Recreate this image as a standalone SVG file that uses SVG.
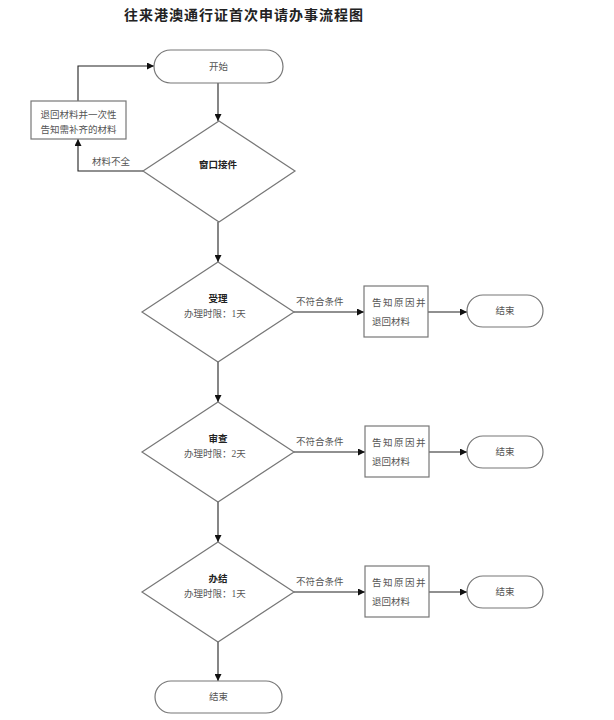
<svg xmlns="http://www.w3.org/2000/svg" width="614" height="720" viewBox="0 0 614 720">
<style>
.t{font-family:"Liberation Serif","Noto Sans CJK SC",serif;font-size:9.5px;fill:#555;}
.c{text-anchor:middle;dominant-baseline:central;}
.b{font-weight:bold;fill:#222;}
.title{font-family:"Liberation Serif","Noto Sans CJK SC",serif;font-size:14px;font-weight:bold;fill:#222;letter-spacing:1px;}
.shape{fill:#fff;stroke:#777;stroke-width:1.2;}
.ln{fill:none;stroke:#222;stroke-width:1.1;}
</style>
<defs>
<marker id="ar" viewBox="0 0 10 10" refX="10" refY="5" markerWidth="7" markerHeight="7" markerUnits="userSpaceOnUse" orient="auto">
<path d="M0,0 L10,5 L0,10 z" fill="#111"/>
</marker>
</defs>
<rect width="614" height="720" fill="#fff"/>
<text class="title c" x="244" y="15">往来港澳通行证首次申请办事流程图</text>

<g id="connectors">
<path class="ln" d="M218,83 V121" marker-end="url(#ar)"/>
<path class="ln" d="M143,171 H78 V139" marker-end="url(#ar)"/>
<path class="ln" d="M78,101 V66 H154" marker-end="url(#ar)"/>
<path class="ln" d="M218,222 V262" marker-end="url(#ar)"/>
<path class="ln" d="M294,312 H364" marker-end="url(#ar)"/>
<path class="ln" d="M428,312 H467" marker-end="url(#ar)"/>
<path class="ln" d="M218,362 V402" marker-end="url(#ar)"/>
<path class="ln" d="M294,452 H365" marker-end="url(#ar)"/>
<path class="ln" d="M429,452 H467" marker-end="url(#ar)"/>
<path class="ln" d="M218,502 V542" marker-end="url(#ar)"/>
<path class="ln" d="M294,592 H365" marker-end="url(#ar)"/>
<path class="ln" d="M429,592 H467" marker-end="url(#ar)"/>
<path class="ln" d="M218,642 V681" marker-end="url(#ar)"/>
<text class="t" x="92" y="165">材料不全</text>
<text class="t" x="296" y="305">不符合条件</text>
<text class="t" x="296" y="445">不符合条件</text>
<text class="t" x="296" y="585">不符合条件</text>
</g>

<g id="start">
<rect class="shape" x="154" y="50" width="129" height="33" rx="16.5"/>
<text class="t c" x="218.5" y="66.5">开始</text>
</g>

<g id="window">
<polygon class="shape" points="219,121 295,171 219,222 143,171"/>
<text class="t c b" x="218" y="165">窗口接件</text>
</g>

<g id="return1">
<rect class="shape" x="31" y="101" width="95" height="38"/>
<text class="t c" x="78.5" y="115">退回材料并一次性</text>
<text class="t c" x="78.5" y="130">告知需补齐的材料</text>
</g>

<g id="accept">
<polygon class="shape" points="218,262 294,312 218,362 142,312"/>
<text class="t c b" x="218" y="299">受理</text>
<text class="t c" x="215" y="314">办理时限：1天</text>
</g>
<g id="box1">
<rect class="shape" x="364" y="286" width="64" height="51"/>
<text class="t" x="372" y="306" letter-spacing="1.5">告知原因并</text>
<text class="t" x="372" y="325">退回材料</text>
</g>
<g id="end1">
<rect class="shape" x="467" y="295" width="76" height="32" rx="16"/>
<text class="t c" x="505" y="311">结束</text>
</g>

<g id="review">
<polygon class="shape" points="218,402 294,452 218,502 142,452"/>
<text class="t c b" x="218" y="439">审查</text>
<text class="t c" x="215" y="454">办理时限：2天</text>
</g>
<g id="box2">
<rect class="shape" x="365" y="426" width="64" height="51"/>
<text class="t" x="372" y="446" letter-spacing="1.5">告知原因并</text>
<text class="t" x="372" y="465">退回材料</text>
</g>
<g id="end2">
<rect class="shape" x="467" y="436" width="76" height="32" rx="16"/>
<text class="t c" x="505" y="452">结束</text>
</g>

<g id="finish">
<polygon class="shape" points="218,542 294,592 218,642 142,592"/>
<text class="t c b" x="218" y="579">办结</text>
<text class="t c" x="215" y="594">办理时限：1天</text>
</g>
<g id="box3">
<rect class="shape" x="365" y="566" width="64" height="51"/>
<text class="t" x="372" y="586" letter-spacing="1.5">告知原因并</text>
<text class="t" x="372" y="605">退回材料</text>
</g>
<g id="end3">
<rect class="shape" x="467" y="576" width="76" height="32" rx="16"/>
<text class="t c" x="505" y="592">结束</text>
</g>

<g id="endFinal">
<rect class="shape" x="155" y="681" width="127" height="32" rx="16"/>
<text class="t c" x="218.5" y="697">结束</text>
</g>
</svg>
